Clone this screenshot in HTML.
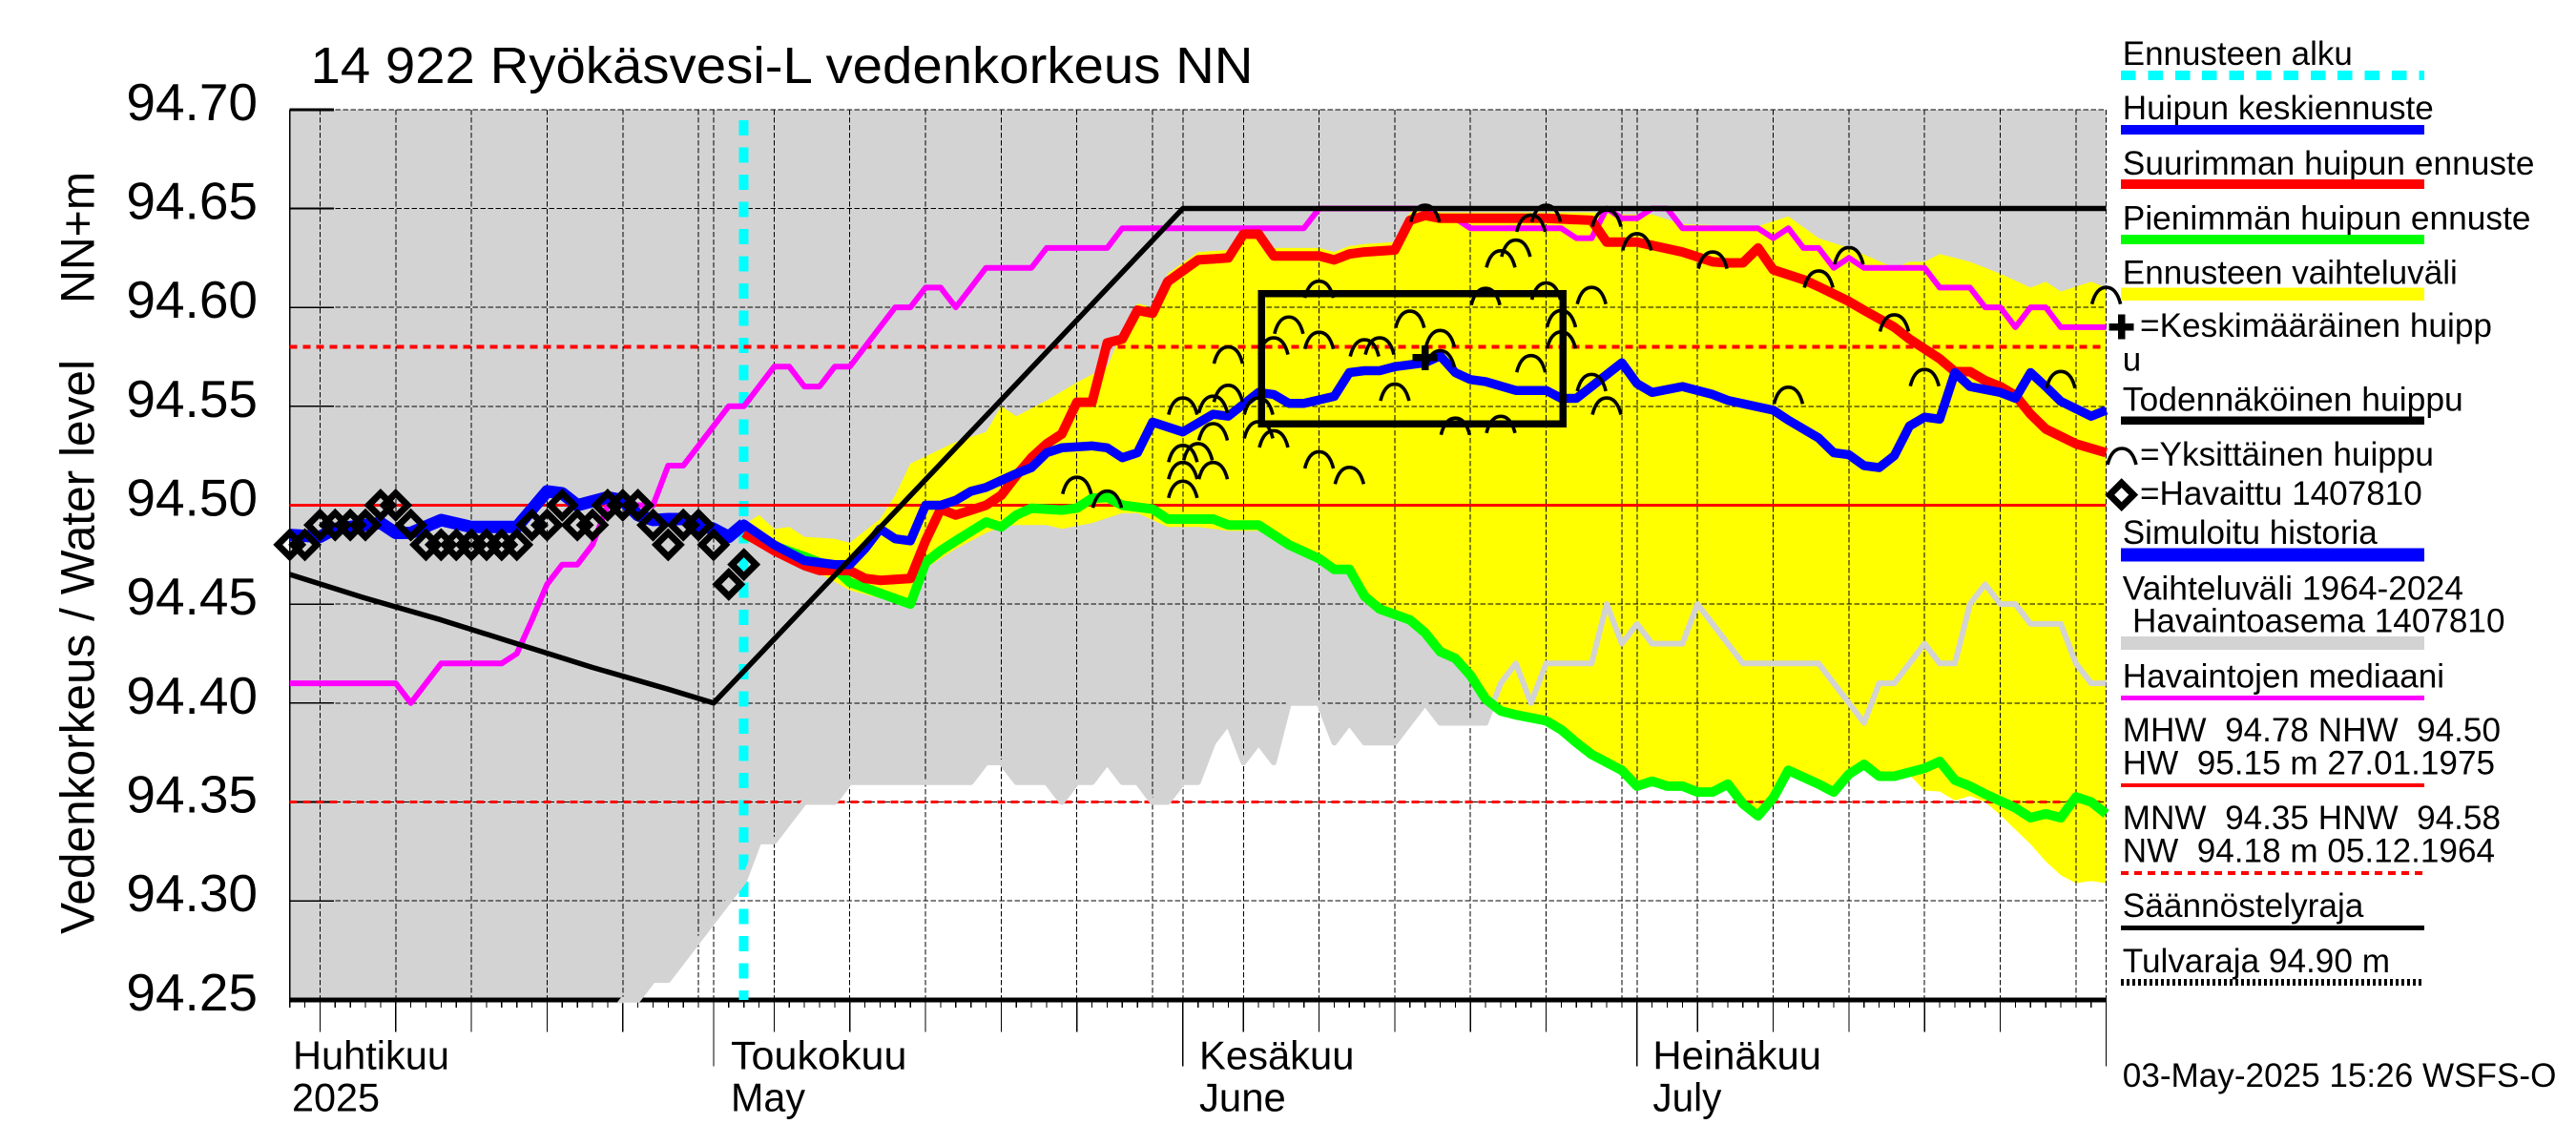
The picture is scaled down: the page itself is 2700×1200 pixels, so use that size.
<!DOCTYPE html>
<html lang="fi">
<head>
<meta charset="utf-8">
<title>14 922 Ryökäsvesi-L vedenkorkeus NN</title>
<style>
html,body{margin:0;padding:0;background:#fff;width:2700px;height:1200px;overflow:hidden}
svg{display:block}
text{font-family:"Liberation Sans",Arial,sans-serif;fill:#000;white-space:pre}
.lg{font-size:35px}
.mo{font-size:41.5px}
</style>
</head>
<body>
<svg id="chart" xmlns="http://www.w3.org/2000/svg" width="2700" height="1200" viewBox="0 0 2700 1200">
<defs>
<clipPath id="plot-clip"><rect x="303.7" y="114.8" width="1903.9" height="933"/></clipPath>
<clipPath id="gray-line-clip"><rect x="303.7" y="114.8" width="1903.9" height="936.4"/></clipPath>
</defs>
<g id="marks"></g>

<text x="325.5" y="87" font-size="54" textLength="988" lengthAdjust="spacingAndGlyphs">14 922 Ryökäsvesi-L vedenkorkeus NN</text>
<text transform="translate(98.7,979) rotate(-90)" font-size="50" textLength="602" lengthAdjust="spacingAndGlyphs">Vedenkorkeus / Water level</text>
<text transform="translate(98.7,318) rotate(-90)" font-size="50" textLength="138" lengthAdjust="spacingAndGlyphs">NN+m</text>

<g>
<text class="mo" x="307" y="1120.5" textLength="164" lengthAdjust="spacingAndGlyphs">Huhtikuu</text>
<text class="mo" x="306" y="1164.5" textLength="92" lengthAdjust="spacingAndGlyphs">2025</text>
<text class="mo" x="766" y="1120.5" textLength="184.5" lengthAdjust="spacingAndGlyphs">Toukokuu</text>
<text class="mo" x="766" y="1164.5" textLength="78" lengthAdjust="spacingAndGlyphs">May</text>
<text class="mo" x="1257" y="1120.5" textLength="162.5" lengthAdjust="spacingAndGlyphs">Kesäkuu</text>
<text class="mo" x="1257" y="1164.5" textLength="90.8" lengthAdjust="spacingAndGlyphs">June</text>
<text class="mo" x="1732.4" y="1120.5" textLength="176.6" lengthAdjust="spacingAndGlyphs">Heinäkuu</text>
<text class="mo" x="1732.4" y="1164.5" textLength="72" lengthAdjust="spacingAndGlyphs">July</text>
</g>

<g>
<text class="lg" x="2224.8" y="68" textLength="241" lengthAdjust="spacingAndGlyphs">Ennusteen alku</text>
<line x1="2223" y1="79" x2="2541" y2="79" stroke="#00ffff" stroke-width="10" stroke-dasharray="15.5 12.9" shape-rendering="crispEdges"/>
<text class="lg" x="2224.8" y="124.8" textLength="326" lengthAdjust="spacingAndGlyphs">Huipun keskiennuste</text>
<line x1="2223" y1="136" x2="2541" y2="136" stroke="#0000ff" stroke-width="10" shape-rendering="crispEdges"/>
<text class="lg" x="2224.8" y="183" textLength="431.7" lengthAdjust="spacingAndGlyphs">Suurimman huipun ennuste</text>
<line x1="2223" y1="193" x2="2541" y2="193" stroke="#ff0000" stroke-width="10" shape-rendering="crispEdges"/>
<text class="lg" x="2224.8" y="240.3" textLength="427.7" lengthAdjust="spacingAndGlyphs">Pienimmän huipun ennuste</text>
<line x1="2223" y1="251" x2="2541" y2="251" stroke="#00ff00" stroke-width="10" shape-rendering="crispEdges"/>
<text class="lg" x="2224.8" y="297.7" textLength="351" lengthAdjust="spacingAndGlyphs">Ennusteen vaihteluväli</text>
<line x1="2223" y1="308" x2="2541" y2="308" stroke="#ffff00" stroke-width="13.5" shape-rendering="crispEdges"/>
<path d="M2210.7,342.5H2236.7M2223.7,329.5V355.5" stroke="#000" stroke-width="7.5" fill="none" shape-rendering="crispEdges"/>
<text class="lg" x="2243" y="352.8" textLength="369" lengthAdjust="spacingAndGlyphs">=Keskimääräinen huipp</text>
<text class="lg" x="2224.8" y="388.4">u</text>
<text class="lg" x="2224.8" y="430.5" textLength="357" lengthAdjust="spacingAndGlyphs">Todennäköinen huippu</text>
<line x1="2223" y1="440.5" x2="2541" y2="440.5" stroke="#000" stroke-width="8.5" shape-rendering="crispEdges"/>
<path d="M2209,487 C2212,475 2217,470 2224,470 C2231,470 2236,475 2239,487" stroke="#000" stroke-width="3.6" fill="none"/>
<text class="lg" x="2243" y="488" textLength="308" lengthAdjust="spacingAndGlyphs">=Yksittäinen huippu</text>
<polygon points="2223.7,506.1 2236.2,518.6 2223.7,531.1 2211.2,518.6" stroke="#000" stroke-width="7" fill="#fff"/>
<text class="lg" x="2243" y="529" textLength="295.8" lengthAdjust="spacingAndGlyphs">=Havaittu 1407810</text>
<text class="lg" x="2224.8" y="570" textLength="267" lengthAdjust="spacingAndGlyphs">Simuloitu historia</text>
<line x1="2223" y1="581.7" x2="2541" y2="581.7" stroke="#0000ff" stroke-width="14" shape-rendering="crispEdges"/>
<text class="lg" x="2224.8" y="628.7" textLength="357.2" lengthAdjust="spacingAndGlyphs">Vaihteluväli 1964-2024</text>
<text class="lg" x="2235" y="662.4" textLength="390.5" lengthAdjust="spacingAndGlyphs">Havaintoasema 1407810</text>
<line x1="2223" y1="674" x2="2541" y2="674" stroke="#d3d3d3" stroke-width="14" shape-rendering="crispEdges"/>
<text class="lg" x="2224.8" y="720.5" textLength="337.2" lengthAdjust="spacingAndGlyphs">Havaintojen mediaani</text>
<line x1="2223" y1="731.6" x2="2541" y2="731.6" stroke="#ff00ff" stroke-width="5" shape-rendering="crispEdges"/>
<text class="lg" x="2224.8" y="777.2" textLength="396.2" lengthAdjust="spacingAndGlyphs">MHW  94.78 NHW  94.50</text>
<text class="lg" x="2224.8" y="811.6" textLength="390.2" lengthAdjust="spacingAndGlyphs">HW  95.15 m 27.01.1975</text>
<line x1="2223" y1="823" x2="2541" y2="823" stroke="#ff0000" stroke-width="4" shape-rendering="crispEdges"/>
<text class="lg" x="2224.8" y="869" textLength="396.2" lengthAdjust="spacingAndGlyphs">MNW  94.35 HNW  94.58</text>
<text class="lg" x="2224.8" y="903.5" textLength="390.2" lengthAdjust="spacingAndGlyphs">NW  94.18 m 05.12.1964</text>
<line x1="2223" y1="915" x2="2541" y2="915" stroke="#ff0000" stroke-width="4" stroke-dasharray="8 6" shape-rendering="crispEdges"/>
<text class="lg" x="2224.8" y="961" textLength="252.6" lengthAdjust="spacingAndGlyphs">Säännöstelyraja</text>
<line x1="2223" y1="972.6" x2="2541" y2="972.6" stroke="#000" stroke-width="5" shape-rendering="crispEdges"/>
<text class="lg" x="2224.8" y="1019" textLength="280.2" lengthAdjust="spacingAndGlyphs">Tulvaraja 94.90 m</text>
<line x1="2223" y1="1029.5" x2="2541" y2="1029.5" stroke="#000" stroke-width="7" stroke-dasharray="3 3" shape-rendering="crispEdges"/>
<text class="lg" x="2224.8" y="1138.8" textLength="454.6" lengthAdjust="spacingAndGlyphs">03-May-2025 15:26 WSFS-O</text>
</g>
</svg>

<script>
// ---- axis data ----
const yTickValues = [94.70, 94.65, 94.60, 94.55, 94.50, 94.45, 94.40, 94.35, 94.30, 94.25];
const yTickLabels = ['94.70', '94.65', '94.60', '94.55', '94.50', '94.45', '94.40', '94.35', '94.30', '94.25'];
const gridDays = [2,7,12,17,22,27,28,32,37,42,47,52,57,59,63,68,73,78,83,88,89,93,98,103,108,113,118,120];
const majorTickDays = [2,7,12,17,22,32,37,42,47,52,63,68,73,78,83,93,98,103,108,113];
const monthTickDays = [28,59,89,120];
const lastDay = 120;
const forecastStartDay = 30;
const highWaterLevel = 94.50;
const highLowLevel = 94.58;
const lowWaterLevel = 94.35;

// ---- historical range lower bound, one value per day from day 0 ----
const rangeLowVals = [
94.20,94.20,94.20,94.20,94.20,94.20,94.20,94.20,94.20,94.20,
94.20,94.20,94.20,94.20,94.20,94.20,94.20,94.20,94.20,94.20,
94.20,94.24,94.25,94.25,94.26,94.26,94.27,94.28,94.29,94.30,
94.31,94.33,94.33,94.34,94.35,94.35,94.35,94.36,94.36,94.36,
94.36,94.36,94.36,94.36,94.36,94.36,94.37,94.37,94.36,94.36,
94.36,94.35,94.36,94.36,94.37,94.36,94.36,94.35,94.35,94.36,
94.36,94.38,94.39,94.37,94.38,94.37,94.40,94.40,94.40,94.38,
94.39,94.38,94.38,94.38,94.39,94.40,94.39,94.39,94.39,94.39,
94.41,94.42,94.40,94.42,94.42,94.42,94.42,94.45,94.43,94.44,
94.43,94.43,94.43,94.45,94.44,94.43,94.42,94.42,94.42,94.42,
94.42,94.42,94.41,94.40,94.39,94.41,94.41,94.42,94.43,94.42,
94.42,94.45,94.46,94.45,94.45,94.44,94.44,94.44,94.42,94.41,94.41];

// ---- forecast range ----
const fcHighDays = [30,31,32,33,34,36,37,38,39,40,
41,44,46,47,48,50,52,54,55,56,
57,58,60,62,63,64,65,68,69,70,
71,73,74,75,76,83,86,88,90,92,
97,99,101,103,106,107,108,109,111,113,
115,116,117,119,120];
const fcHighVals = [94.49,94.495,94.488,94.489,94.484,94.483,94.481,94.487,94.493,94.505,
94.521,94.532,94.537,94.55,94.545,94.553,94.562,94.57,94.588,94.602,
94.60,94.617,94.628,94.629,94.641,94.641,94.63,94.63,94.628,94.631,
94.632,94.633,94.648,94.65,94.648,94.648,94.648,94.647,94.647,94.642,
94.641,94.646,94.635,94.63,94.62,94.623,94.623,94.627,94.623,94.617,
94.61,94.613,94.608,94.613,94.61];
const fcLowDays = [30,34,37,41,42,43,44,46,47,48,
50,51,53,55,56,58,60,61,62,64,
65,66,68,69,70,71,72,74,75,76,
77,78,79,80,81,83,84,85,86,88,
89,90,91,92,93,94,95,96,97,98,
99,101,102,103,104,105,106,107,108,109,
110,111,112,113,114,115,116,117,118,119,
120];
const fcLowVals = [94.484,94.47,94.457,94.449,94.468,94.473,94.478,94.486,94.489,94.49,
94.49,94.488,94.491,94.496,94.496,94.489,94.489,94.488,94.487,94.487,
94.483,94.478,94.471,94.466,94.466,94.453,94.446,94.44,94.434,94.424,
94.421,94.412,94.40,94.394,94.392,94.389,94.385,94.378,94.372,94.364,
94.356,94.358,94.356,94.356,94.354,94.354,94.358,94.348,94.342,94.35,
94.364,94.357,94.354,94.362,94.367,94.361,94.361,94.3637,94.3557,94.3553,
94.3507,94.353,94.35,94.3434,94.336,94.3286,94.32,94.313,94.309,94.31,
94.309];

// ---- median of observations ----
const medianDays = [0,7,8,10,14,15,16,17,18,19,
20,21,24,25,26,29,30,32,33,34,
35,36,37,38,40,41,42,43,44,46,
49,50,54,55,67,68,75,76,77,78,
84,85,86,87,88,89,90,91,92,97,
98,99,100,101,102,103,104,108,109,111,
112,113,114,115,116,117,120];
const medianVals = [94.41,94.41,94.40,94.42,94.42,94.425,94.442,94.46,94.47,94.47,
94.48,94.50,94.50,94.52,94.52,94.55,94.55,94.57,94.57,94.56,
94.56,94.57,94.57,94.58,94.60,94.60,94.61,94.61,94.60,94.62,
94.62,94.63,94.63,94.64,94.64,94.65,94.65,94.645,94.645,94.64,
94.64,94.635,94.635,94.65,94.645,94.645,94.65,94.65,94.64,94.64,
94.635,94.64,94.63,94.63,94.62,94.625,94.62,94.62,94.61,94.61,
94.60,94.60,94.59,94.60,94.60,94.59,94.59];

// ---- regulation limit ----
const limitDays = [0,5,10,15,20,25,28,59,120];
const limitVals = [94.465,94.453,94.442,94.430,94.418,94.407,94.40,94.65,94.65];

// ---- maximum peak forecast ----
const maxDays = [30,32,34,35,37,38,39,41,42,43,
44,46,47,48,49,50,51,52,53,54,
55,56,57,58,60,62,63,64,65,68,
69,70,71,73,74,75,76,83,86,87,
88,89,92,94,95,96,97,98,100,101,
103,104,106,107,109,110,111,112,113,114,
115,116,118,120];
const maxVals = [94.486,94.477,94.4695,94.467,94.467,94.463,94.462,94.463,94.482,94.498,
94.495,94.500,94.505,94.515,94.524,94.531,94.536,94.552,94.552,94.582,
94.584,94.5985,94.597,94.613,94.624,94.625,94.637,94.637,94.626,94.626,
94.624,94.627,94.628,94.629,94.644,94.6465,94.645,94.645,94.644,94.633,
94.633,94.633,94.628,94.623,94.6225,94.6225,94.630,94.619,94.614,94.6105,
94.603,94.5985,94.590,94.584,94.574,94.5675,94.5675,94.563,94.560,94.5555,
94.546,94.5385,94.531,94.5265];

// ---- minimum peak forecast ----
const minDays = [30,34,36,37,41,42,43,44,46,47,48,
49,51,52,53,54,55,57,58,59,61,
62,64,65,66,68,69,70,71,72,74,
75,76,77,78,79,80,81,83,84,85,
86,88,89,90,91,92,93,94,95,96,
97,98,99,101,102,103,104,105,106,108,
109,110,111,112,114,115,116,117,118,119,
120];
const minVals = [94.485,94.474,94.468,94.461,94.450,94.471,94.477,94.482,94.4915,94.489,94.495,
94.4985,94.4975,94.4985,94.5035,94.504,94.500,94.498,94.493,94.493,94.493,
94.490,94.490,94.485,94.480,94.473,94.4675,94.4675,94.454,94.4475,94.442,
94.4355,94.426,94.4225,94.414,94.402,94.396,94.394,94.391,94.3865,94.380,
94.374,94.366,94.358,94.3605,94.358,94.358,94.355,94.355,94.359,94.349,
94.343,94.352,94.366,94.359,94.355,94.364,94.369,94.363,94.363,94.367,
94.3705,94.361,94.358,94.354,94.347,94.342,94.344,94.342,94.3525,94.350,
94.344];

// ---- simulated history and mean peak forecast ----
const meanDays = [0,2,3,6,7,8,10,12,15,17,
18,19,21,22,23,24,25,26,27,28,
29,30,32,34,36,37,38,39,40,41,
42,43,44,45,46,47,48,49,50,51,
53,54,55,56,57,59,61,62,64,65,
66,67,69,70,71,72,73,75,76,77,
78,79,81,83,84,85,88,89,90,92,
94,95,98,99,101,102,103,104,105,106,
107,108,109,110,111,113,114,115,116,117,
119,120];
const meanVals = [94.485,94.484,94.488,94.491,94.486,94.486,94.4925,94.489,94.489,94.507,
94.506,94.500,94.504,94.5025,94.495,94.4925,94.493,94.493,94.490,94.488,
94.484,94.4905,94.480,94.472,94.470,94.470,94.478,94.488,94.483,94.482,
94.500,94.500,94.5025,94.507,94.509,94.5125,94.516,94.519,94.5265,94.529,
94.530,94.529,94.524,94.5265,94.542,94.537,94.546,94.545,94.557,94.556,
94.5515,94.5515,94.555,94.567,94.568,94.568,94.570,94.572,94.5755,94.567,
94.5635,94.5625,94.558,94.558,94.554,94.554,94.572,94.5615,94.557,94.560,
94.556,94.553,94.548,94.543,94.534,94.5265,94.5255,94.520,94.519,94.525,
94.540,94.5445,94.5435,94.567,94.560,94.557,94.554,94.567,94.560,94.5525,
94.545,94.548];

// ---- single peak markers ----
const peakDays = [52,54,59,59,59,60,61,61,59,61,
62,62,64,64,65,65,66,68,68,68,
70,71,72,73,74,75,76,76,77,79,
80,80,81,82,82,83,83,84,84,86,
86,87,87,89,94,101,103,106,99,108,
117,120];
const peakVals = [94.5105,94.5035,94.5085,94.518,94.5266,94.5275,94.518,94.5376,94.5506,94.5515,
94.557,94.5764,94.5506,94.5386,94.534,94.581,94.5915,94.6096,94.5838,94.5234,
94.5155,94.58,94.581,94.5576,94.5945,94.648,94.5847,94.5745,94.5404,94.606,
94.5413,94.625,94.6304,94.643,94.572,94.648,94.6087,94.5948,94.584,94.6065,
94.5625,94.5506,94.6456,94.6336,94.6244,94.6148,94.6266,94.5926,94.556,94.565,
94.564,94.6065];

// ---- observations, one value per day from day 0 ----
const observedVals = [94.48,94.48,94.49,94.49,94.49,94.49,94.50,94.50,94.49,94.48,
94.48,94.48,94.48,94.48,94.48,94.48,94.49,94.49,94.50,94.49,
94.49,94.50,94.50,94.50,94.49,94.48,94.49,94.49,94.48,94.46,94.47];

// ---- probable peak box and average peak ----
const boxDays = [64.2, 84.1];
const boxVals = [94.607, 94.541];
const averagePeakDay = 75;
const averagePeakVal = 94.5745;

// ---- axis functions ----
function xScale(d) { return 303.7 + d * 15.866; }
function yScale(v) { return 114.8 + (94.70 - v) * 2073.3; }

const NS = 'http://www.w3.org/2000/svg';
const root = document.getElementById('marks');
function make(tag, props, parent) {
  const el = document.createElementNS(NS, tag);
  for (const k in props) el.setAttribute(k, props[k]);
  (parent || root).appendChild(el);
  return el;
}
function pts(days, vals) {
  return days.map(function (d, i) { return xScale(d).toFixed(1) + ',' + yScale(vals[i]).toFixed(1); }).join(' ');
}
function seriesLine(days, vals, color, width) {
  return make('polyline', { points: pts(days, vals), fill: 'none', stroke: color, 'stroke-width': width, 'stroke-linejoin': 'round', 'stroke-linecap': 'butt' });
}

const rangeDays = rangeLowVals.map(function (_, i) { return i; });

// range fill
const rangeFill = make('polygon', {
  points: xScale(0) + ',' + yScale(94.70) + ' ' + xScale(lastDay) + ',' + yScale(94.70) + ' ' + pts(rangeDays.slice().reverse(), rangeLowVals.slice().reverse()),
  fill: '#d3d3d3', 'clip-path': 'url(#plot-clip)'
});



// forecast range fill
const fcFill = make('polygon', {
  points: pts(fcHighDays, fcHighVals) + ' ' + pts(fcLowDays.slice().reverse(), fcLowVals.slice().reverse()),
  fill: '#ffff00'
});



// grid
const gridGroup = make('g', { stroke: '#000', 'stroke-width': 1, 'stroke-dasharray': '5.5 2.5', 'shape-rendering': 'crispEdges' });


gridDays.forEach(function (d) {
  const l = make('line', { x1: xScale(d), x2: xScale(d), y1: yScale(94.70), y2: yScale(94.25) }, gridGroup);
  
  
});
yTickValues.forEach(function (v) {
  const l = make('line', { x1: xScale(0), x2: xScale(lastDay), y1: yScale(v), y2: yScale(v) }, gridGroup);
  
  
});

// bottom axis
const axisBottom = make('line', { x1: xScale(0), x2: xScale(lastDay), y1: yScale(94.25), y2: yScale(94.25), stroke: '#000', 'stroke-width': 5, 'shape-rendering': 'crispEdges' });



// left axis
const axisLeft = make('line', { x1: xScale(0), x2: xScale(0), y1: yScale(94.70), y2: yScale(94.25), stroke: '#000', 'stroke-width': 1.5, 'shape-rendering': 'crispEdges' });



// y ticks and labels
yTickValues.forEach(function (v, i) {
  const t = make('line', { x1: xScale(0), x2: 350, y1: yScale(v), y2: yScale(v), stroke: '#000', 'stroke-width': i === 0 ? 3 : 1.6, 'shape-rendering': 'crispEdges' });
  
  
  const lab = make('text', { x: 270, y: yScale(v) + 11, 'text-anchor': 'end', 'font-size': 55 });
  
  
  lab.textContent = yTickLabels[i];
});

// x ticks
for (let d = 0; d <= lastDay; d++) {
  let bottom = 1056;
  if (majorTickDays.indexOf(d) >= 0) bottom = 1081.4;
  if (monthTickDays.indexOf(d) >= 0) bottom = 1117.4;
  const t = make('line', { x1: xScale(d), x2: xScale(d), y1: yScale(94.25), y2: bottom, stroke: '#000', 'stroke-width': 1.2, 'shape-rendering': 'crispEdges' });
  
  
}

// forecast start
const cyan = make('line', { x1: xScale(forecastStartDay), x2: xScale(forecastStartDay), y1: 126, y2: yScale(94.25), stroke: '#00ffff', 'stroke-width': 10, 'stroke-dasharray': '16 12.5', 'shape-rendering': 'crispEdges' });



// reference levels
const refHigh = make('line', { x1: xScale(0), x2: xScale(lastDay), y1: yScale(highWaterLevel), y2: yScale(highWaterLevel), stroke: '#ff0000', 'stroke-width': 3, 'shape-rendering': 'crispEdges' });


const refHighLow = make('line', { x1: xScale(0), x2: xScale(lastDay), y1: yScale(highLowLevel), y2: yScale(highLowLevel), stroke: '#ff0000', 'stroke-width': 4, 'stroke-dasharray': '8 6', 'shape-rendering': 'crispEdges' });


const refLow = make('line', { x1: xScale(0), x2: xScale(lastDay), y1: yScale(lowWaterLevel), y2: yScale(lowWaterLevel), stroke: '#ff0000', 'stroke-width': 3, 'stroke-dasharray': '8 6', 'shape-rendering': 'crispEdges' });



// range lower edge drawn as line
const rangeLine = seriesLine(rangeDays, rangeLowVals, '#d3d3d3', 6);
rangeLine.setAttribute('clip-path', 'url(#gray-line-clip)');



// series
const medianLine = seriesLine(medianDays, medianVals, '#ff00ff', 6);



const minLine = seriesLine(minDays, minVals, '#00ff00', 10);



const maxLine = seriesLine(maxDays, maxVals, '#ff0000', 10);



const meanLine = seriesLine(meanDays, meanVals, '#0000ff', 9.5);



const historyDays = meanDays.filter(function (d) { return d <= forecastStartDay; });
const historyLine = seriesLine(historyDays, meanVals.slice(0, historyDays.length), '#0000ff', 13);



const limitLine = seriesLine(limitDays, limitVals, '#000', 5.5);



// observations
observedVals.forEach(function (v, i) {
  const cx = xScale(i), cy = yScale(v), r = 12.5;
  const p = make('polygon', {
    points: cx + ',' + (cy - r) + ' ' + (cx + r) + ',' + cy + ' ' + cx + ',' + (cy + r) + ' ' + (cx - r) + ',' + cy,
    fill: 'none', stroke: '#000', 'stroke-width': 7
  });
  
  
});

// single peaks
peakDays.forEach(function (d, i) {
  const cx = xScale(d), cy = yScale(peakVals[i]);
  const a = make('path', {
    d: 'M' + (cx - 15) + ',' + (cy + 10) + ' C' + (cx - 12) + ',' + (cy - 2) + ' ' + (cx - 7) + ',' + (cy - 7.5) + ' ' + cx + ',' + (cy - 7.5) + ' C' + (cx + 7) + ',' + (cy - 7.5) + ' ' + (cx + 12) + ',' + (cy - 2) + ' ' + (cx + 15) + ',' + (cy + 10),
    fill: 'none', stroke: '#000', 'stroke-width': 3.6
  });
  
  
});

// probable peak box
const box = make('rect', {
  x: xScale(boxDays[0]), y: yScale(boxVals[0]),
  width: xScale(boxDays[1]) - xScale(boxDays[0]), height: yScale(boxVals[1]) - yScale(boxVals[0]),
  fill: 'none', stroke: '#000', 'stroke-width': 7.5, 'shape-rendering': 'crispEdges'
});



// average peak
const avgX = xScale(averagePeakDay), avgY = yScale(averagePeakVal);
const plus = make('path', {
  d: 'M' + (avgX - 13) + ',' + avgY + 'H' + (avgX + 13) + 'M' + avgX + ',' + (avgY - 13) + 'V' + (avgY + 13),
  fill: 'none', stroke: '#000', 'stroke-width': 7.5, 'shape-rendering': 'crispEdges'
});


</script>
</body>
</html>
